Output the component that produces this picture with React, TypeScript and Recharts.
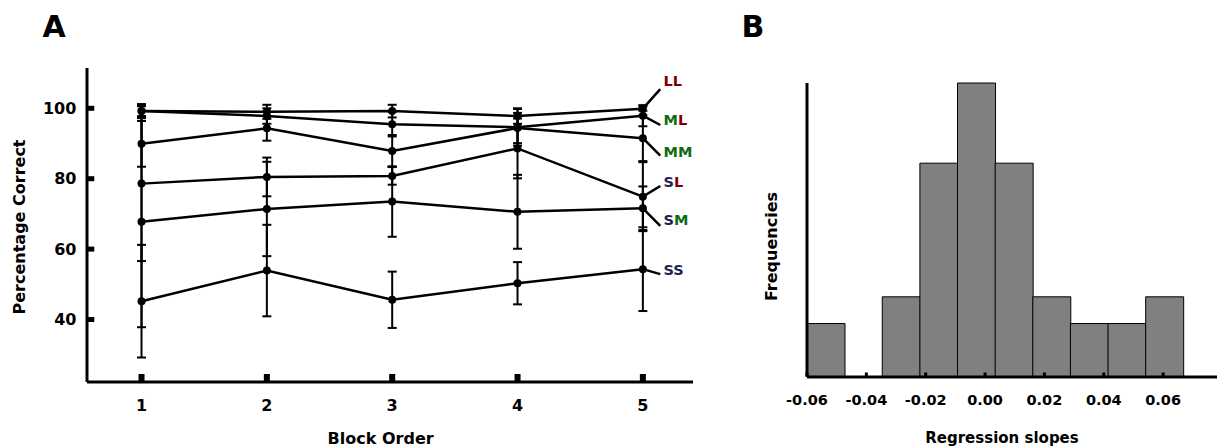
import React from 'react';
import { LineChart, Line, XAxis, YAxis, ErrorBar, BarChart, Bar, Label } from 'recharts';

const FONT = '"DejaVu Sans", Verdana, sans-serif';

// ---------- Panel A data ----------
const blocks = [1, 2, 3, 4, 5];
const blockTicks = [1, 2, 3, 4, 5];
const pctTicks = [40, 60, 80, 100];

const LL = [99.2, 99.0, 99.2, 97.8, 99.9];
const ML = [99.2, 97.8, 95.5, 94.6, 97.9];
const MM = [89.9, 94.3, 87.9, 94.4, 91.5];
const SL = [78.6, 80.5, 80.8, 88.6, 74.9];
const SM = [67.8, 71.4, 73.5, 70.6, 71.6];
const SS = [45.2, 53.9, 45.6, 50.3, 54.3];

const LLerr = [1.8, 2.0, 1.8, 2.2, 0.6];
const MLerr = [2.0, 2.2, 3.5, 5.2, 3.0];
const MMerr = [6.5, 3.5, 4.5, 4.3, 6.5];
const SLerr = [22.0, 5.5, 2.5, 8.5, 9.8];
const SMerr = [30.0, 13.4, 10.0, 10.5, 6.2];
const SSerr = [16.0, 13.0, 8.0, 6.0, 11.9];

const seriesNames = ['LL', 'ML', 'MM', 'SL', 'SM', 'SS'];
const seriesVals = [LL, ML, MM, SL, SM, SS];
const seriesErrs = [LLerr, MLerr, MMerr, SLerr, SMerr, SSerr];

const lineData = blocks.map((b, i) => {
  const row: Record<string, number> = { block: b };
  seriesNames.forEach((n, k) => {
    row[n] = seriesVals[k][i];
    row[n + 'e'] = seriesErrs[k][i];
  });
  return row;
});

// ---------- Panel B data ----------
const slopeBinStart = -0.06;
const slopeBinWidth = 0.01268;
const slopeCounts = [2, 0, 3, 8, 11, 8, 3, 2, 2, 3];
const slopeTicks = [-0.06, -0.04, -0.02, 0, 0.02, 0.04, 0.06];
const slopeAxisEnd = 0.0795;
const histData = slopeCounts.map((c, i) => ({
  center: slopeBinStart + (i + 0.5) * slopeBinWidth,
  count: c,
}));

// ---------- styles ----------
const letterColors: Record<string, string> = { L: '#800000', M: '#0e6b10', S: '#1e2452' };
// connector offset (dx, dy) and text vertical shift for end labels
const endLabelStyle: Record<string, [number, number, number]> = {
  LL: [17.4, -19.6, -8.3],
  ML: [17.4, 9.3, -5],
  MM: [17.4, 17.5, -4],
  SL: [17.4, -10.7, -3.7],
  SM: [17.4, 17.7, -6],
  SS: [17.4, 5.0, -4.3],
};

const makeDot = (name: string) => (p: any) => {
  const { cx, cy, index } = p;
  const last = index === blocks.length - 1;
  const [dx, dy, tdy] = endLabelStyle[name];
  return (
    <g key={`dot-${name}-${index}`}>
      <circle cx={cx} cy={cy} r={4} fill="#000" />
      {last ? (
        <g>
          <line x1={cx} y1={cy} x2={cx + dx} y2={cy + dy} stroke="#000" strokeWidth={2.5} />
          <text
            x={cx + dx + 3.3}
            y={cy + dy + tdy}
            dominantBaseline="central"
            fontFamily={FONT}
            fontWeight="bold"
            fontSize={14.5}
          >
            {name.split('').map((ch, j) => (
              <tspan key={j} fill={letterColors[ch]}>{ch}</tspan>
            ))}
          </text>
        </g>
      ) : null}
    </g>
  );
};

const LeftXTick = (p: any) => {
  const { x, y, payload } = p;
  return (
    <g>
      <rect x={x - 3} y={y - 8} width={6} height={7.5} fill="#000" />
      <text x={x} y={y + 23.7} textAnchor="middle" dominantBaseline="central" fontFamily={FONT} fontWeight="bold" fontSize={16} fill="#000">
        {payload.value}
      </text>
    </g>
  );
};

const LeftYTick = (p: any) => {
  const { x, y, payload } = p;
  return (
    <g>
      <rect x={x} y={y - 2.5} width={7.3} height={5} fill="#000" />
      <text x={x - 10.6} y={y} textAnchor="end" dominantBaseline="central" fontFamily={FONT} fontWeight="bold" fontSize={16} fill="#000">
        {payload.value}
      </text>
    </g>
  );
};

const HistXTick = (p: any) => {
  const { x, y, payload } = p;
  return (
    <g>
      <rect x={x - 1.5} y={y - 4.5} width={3} height={3.5} fill="#000" />
      <text x={x} y={y + 23} textAnchor="middle" dominantBaseline="central" fontFamily={FONT} fontWeight="bold" fontSize={14.5} fill="#000">
        {Number(payload.value).toFixed(2)}
      </text>
    </g>
  );
};

const title = (text: string, fx: (vb: any) => number, fy: (vb: any) => number, rotate: boolean, size: number) =>
  (props: any) => {
    const vb = props.viewBox || {};
    const x = fx(vb);
    const y = fy(vb);
    return (
      <text
        x={x}
        y={y}
        textAnchor="middle"
        dominantBaseline="central"
        transform={rotate ? `rotate(-90, ${x}, ${y})` : undefined}
        fontFamily={FONT}
        fontWeight="bold"
        fontSize={size}
        fill="#000"
      >
        {text}
      </text>
    );
  };

export default function App() {
  return (
    <div style={{ position: 'absolute', left: 0, top: 0, width: 1217, height: 448, overflow: 'hidden', background: '#fff' }}>
      <div style={{ position: 'absolute', left: 0, top: 0 }}>
        <LineChart width={720} height={448} data={lineData} margin={{ top: 68, right: 27, bottom: 0, left: 0 }}>
          <XAxis
            dataKey="block"
            type="number"
            domain={[0.565, 5.4]}
            ticks={blockTicks}
            height={66}
            tickSize={0}
            tickMargin={0}
            tickLine={false}
            axisLine={{ stroke: '#000', strokeWidth: 3 }}
            tick={(p: any) => <LeftXTick {...p} />}
          >
            <Label content={title('Block Order', (vb) => vb.x + vb.width / 2 - 9.4, (vb) => vb.y + 56, false, 16)} />
          </XAxis>
          <YAxis
            type="number"
            domain={[22.24, 111.45]}
            ticks={pctTicks}
            width={87}
            tickSize={0}
            tickMargin={0}
            tickLine={false}
            axisLine={{ stroke: '#000', strokeWidth: 3 }}
            tick={(p: any) => <LeftYTick {...p} />}
          >
            <Label content={title('Percentage Correct', (vb) => vb.x + 19.5, (vb) => vb.y + vb.height / 2 + 2, true, 16)} />
          </YAxis>
          {seriesNames.map((n) => (
            <Line
              key={n}
              dataKey={n}
              stroke="#000"
              strokeWidth={2.5}
              isAnimationActive={false}
              dot={makeDot(n)}
              activeDot={false}
            >
              <ErrorBar dataKey={n + 'e'} width={4.5} strokeWidth={2} stroke="#000" direction="y" isAnimationActive={false} />
            </Line>
          ))}
        </LineChart>
      </div>
      <div style={{ position: 'absolute', left: 740, top: 0 }}>
        <BarChart width={481} height={448} data={histData} barCategoryGap={0} barGap={0} margin={{ top: 83, right: 0, bottom: 0, left: 0 }}>
          <XAxis
            dataKey="center"
            type="number"
            domain={[slopeBinStart, slopeAxisEnd]}
            ticks={slopeTicks}
            height={71}
            tickSize={0}
            tickMargin={0}
            tickLine={false}
            interval={0}
            axisLine={{ stroke: '#000', strokeWidth: 3 }}
            tick={(p: any) => <HistXTick {...p} />}
          >
            <Label content={title('Regression slopes', (vb) => vb.x + 195, (vb) => vb.y + 61, false, 15)} />
          </XAxis>
          <YAxis
            type="number"
            domain={[0, 11]}
            width={67}
            tick={false}
            tickLine={false}
            axisLine={{ stroke: '#000', strokeWidth: 3 }}
          >
            <Label content={title('Frequencies', (vb) => vb.x + 31, (vb) => vb.y + vb.height / 2 + 16.5, true, 16)} />
          </YAxis>
          <Bar dataKey="count" fill="#808080" stroke="#000" strokeWidth={1} isAnimationActive={false} />
        </BarChart>
      </div>
      <svg width={1217} height={448} style={{ position: 'absolute', left: 0, top: 0, pointerEvents: 'none' }}>
        <text x={54} y={37.3} textAnchor="middle" fontFamily={FONT} fontWeight="bold" fontSize={30} fill="#000">A</text>
        <text x={753} y={37.3} textAnchor="middle" fontFamily={FONT} fontWeight="bold" fontSize={30} fill="#000">B</text>
      </svg>
    </div>
  );
}
